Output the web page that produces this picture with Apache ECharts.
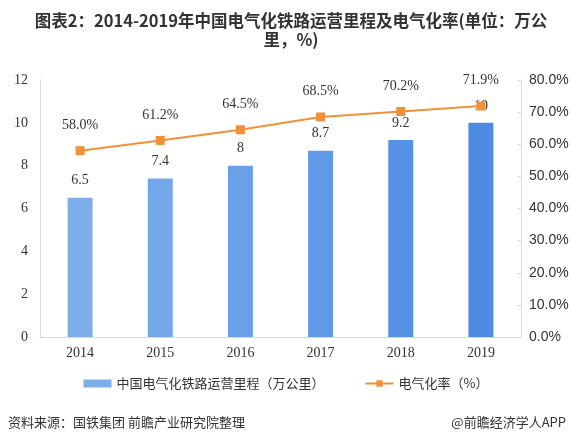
<!DOCTYPE html>
<html><head><meta charset="utf-8">
<script src="https://cdn.jsdelivr.net/npm/echarts@6/dist/echarts.min.js"></script>
<style>html,body{margin:0;padding:0;background:#fff}#c{width:572px;height:447px}</style>
</head><body><div id="c"></div>
<script>
const years = ['2014','2015','2016','2017','2018','2019'];
const mileage = [6.5, 7.4, 8, 8.7, 9.2, 10];
const rate = [58.0, 61.2, 64.5, 68.5, 70.2, 71.9];
const barColors = ['#7eaeea','#74a7e8','#6aa0e7','#6099e5','#5692e3','#4c8be1'];
const titleText = '图表2：2014-2019年中国电气化铁路运营里程及电气化率(单位：万公\n里，%)';
const barName = '中国电气化铁路运营里程（万公里）';
const lineName = '电气化率（%）';
const sourceText = '资料来源：国铁集团 前瞻产业研究院整理';
const brandText = '@前瞻经济学人APP';

const chart = echarts.init(document.getElementById('c'));
const serif = '"Liberation Serif","Times New Roman",serif';
chart.setOption({
  animation: false,
  title: {
    text: titleText, left: 286, top: 6, textAlign: 'center',
    textStyle: {fontSize: 16.5, fontWeight: 'bold', color: '#333', lineHeight: 19, align: 'center', fontFamily: '"Noto Sans CJK SC", sans-serif'}
  },
  legend: {
    bottom: 52, left: 'center', itemGap: 40, itemWidth: 28, itemHeight: 8,
    textStyle: {fontSize: 13, color: '#333', fontFamily: '"Noto Sans CJK SC", sans-serif'},
    data: [
      {name: barName, icon: 'rect', itemStyle: {color: '#7eaeea'}},
      {name: lineName}
    ]
  },
  graphic: [
    {type: 'text', left: 8, top: 416, style: {text: sourceText, fontSize: 13, fill: '#333', fontFamily: '"Noto Sans CJK SC", sans-serif'}},
    {type: 'text', right: 6, top: 416, style: {text: brandText, fontSize: 13, fill: '#333', fontFamily: '"Noto Sans CJK SC", sans-serif'}}
  ],
  grid: {left: 40, right: 51, top: 80, bottom: 110},
  xAxis: {
    type: 'category', data: years,
    axisLine: {lineStyle: {color: '#d9d9d9'}}, axisTick: {show: false},
    axisLabel: {color: '#333', fontSize: 14, fontFamily: serif, margin: 9}
  },
  yAxis: [
    {type: 'value', min: 0, max: 12, interval: 2,
     axisLine: {show: true, lineStyle: {color: '#d9d9d9'}}, axisTick: {show: false},
     splitLine: {show: false},
     axisLabel: {color: '#333', fontSize: 14, fontFamily: serif, margin: 12}},
    {type: 'value', min: 0, max: 80, interval: 10,
     axisLine: {show: true, lineStyle: {color: '#d9d9d9'}},
     axisTick: {show: true, inside: true, length: 4, lineStyle: {color: '#d9d9d9'}},
     splitLine: {show: false},
     axisLabel: {color: '#333', fontSize: 14, fontFamily: '"Liberation Sans", sans-serif', margin: 8,
       formatter: v => v.toFixed(1) + '%'}}
  ],
  series: [
    {name: barName, type: 'bar', barWidth: 25,
     data: mileage.map((v, i) => ({value: v, itemStyle: {color: barColors[i]}})),
     label: {show: true, position: 'top', distance: 10, color: '#333', fontSize: 14, fontFamily: serif}},
    {name: lineName, type: 'line', yAxisIndex: 1, data: rate,
     symbol: 'rect', symbolSize: 9,
     lineStyle: {color: '#f0913a', width: 2}, itemStyle: {color: '#f0913a'},
     label: {show: true, position: 'top', distance: 14, color: '#333', fontSize: 14, fontFamily: serif,
       formatter: p => p.value.toFixed(1) + '%'}}
  ]
});
</script></body></html>
